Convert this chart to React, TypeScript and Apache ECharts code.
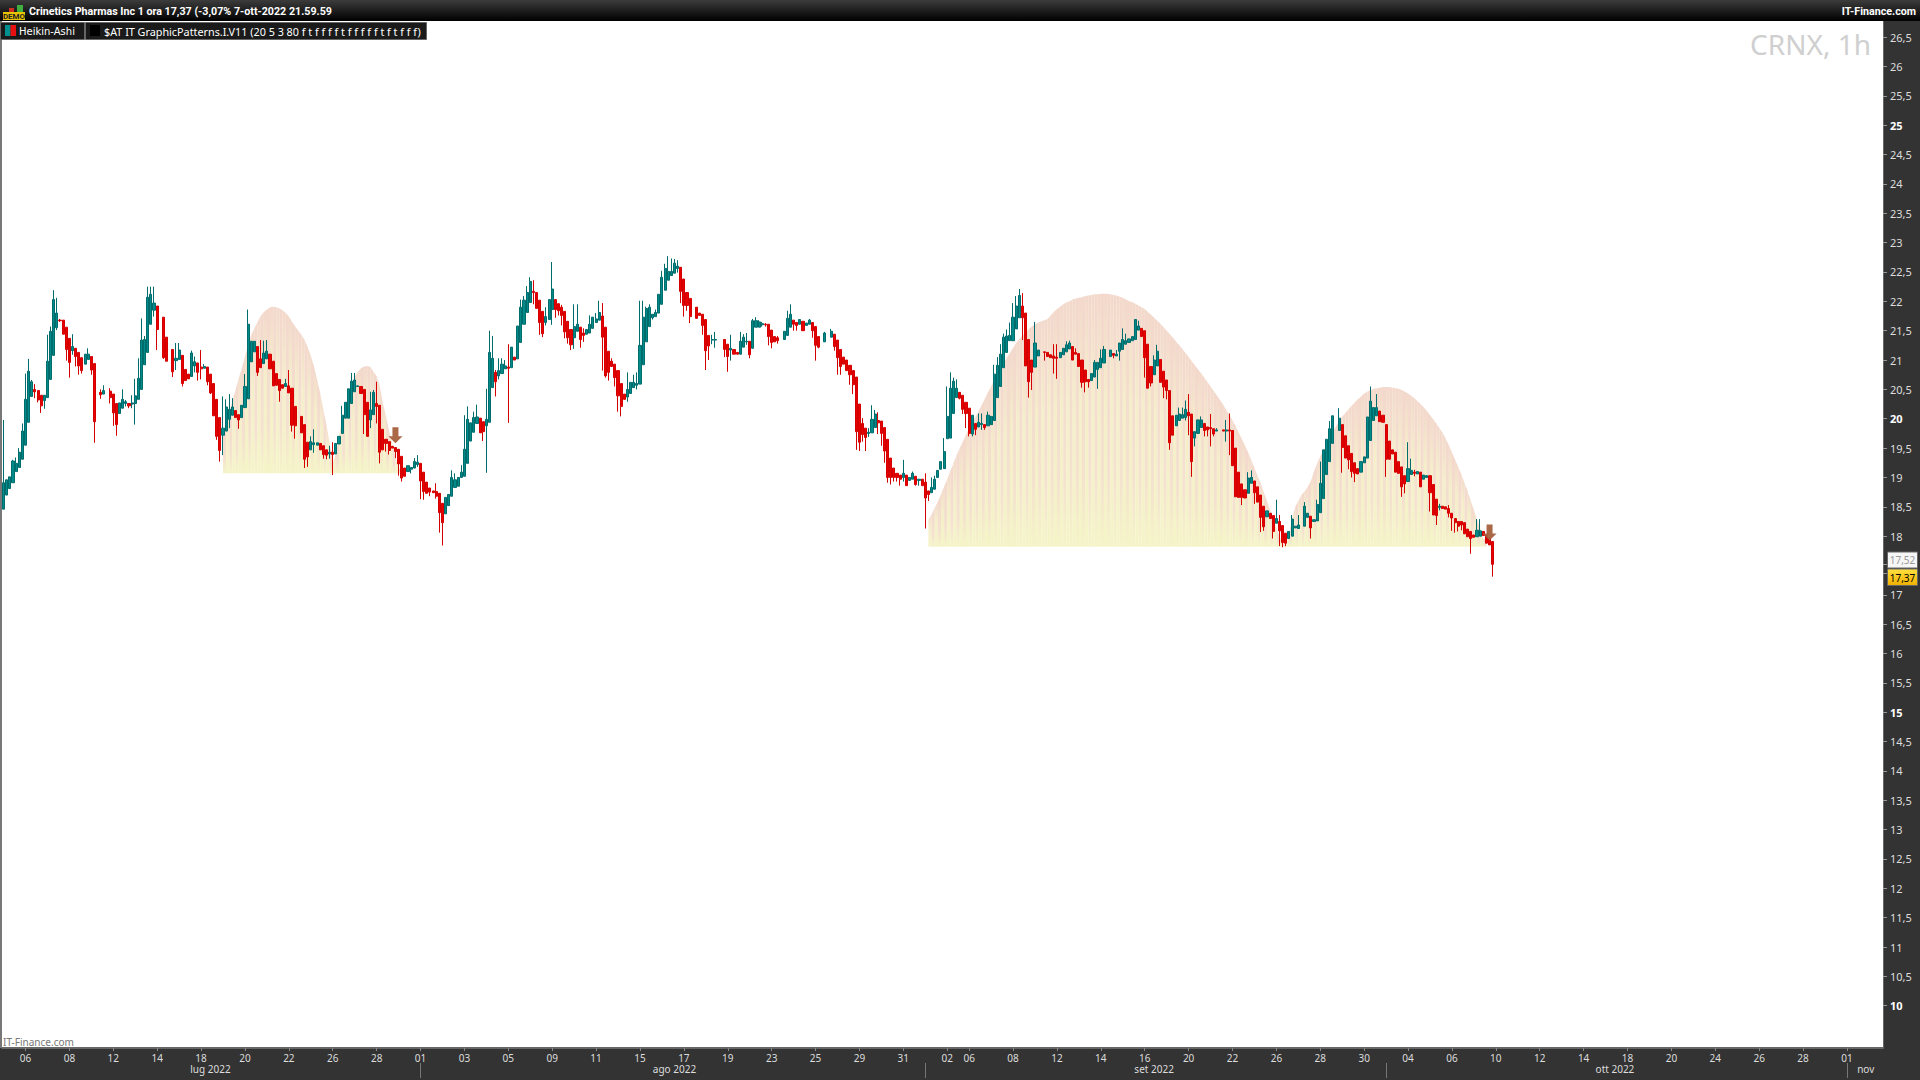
import React, { useEffect, useRef } from "react";
import * as echarts from "echarts";

type Bar = number[] | null;

const julyBars: Bar[] = [
[18.46,18.91,18.46,19.98],[18.70,18.96,18.70,18.96],[18.81,19.01,18.81,19.01],[18.91,19.28,18.91,19.30],[19.10,19.24,19.10,19.34],[19.17,19.43,19.17,19.50],[19.31,19.79,19.31,19.92],[19.55,20.33,19.55,20.77],[19.94,20.81,19.94,21.02],[20.38,20.63,20.38,20.66],
[20.50,20.46,20.35,20.59],[20.48,20.32,20.28,20.48],[20.40,20.22,20.10,20.40],[20.31,20.40,20.17,20.40],[20.36,20.98,20.36,21.43],[20.67,21.49,20.67,21.57],[21.08,22.03,21.08,22.19],[21.55,21.80,21.51,22.06],[21.68,21.67,21.65,21.70],[21.68,21.44,21.44,21.68],
[21.56,21.18,20.99,21.56],[21.37,20.96,20.70,21.37],[21.16,21.23,21.09,21.44],[21.20,21.06,20.89,21.20],[21.13,20.90,20.75,21.13],[21.04,20.82,20.77,21.04],[20.93,21.10,20.93,21.10],[21.01,21.10,21.01,21.20],[21.06,20.83,20.75,21.06],[20.94,19.95,19.59,20.94],
null,[20.45,20.41,20.34,20.50],[20.42,20.48,20.42,20.57],null,[20.47,20.36,20.26,20.52],[20.42,20.10,19.88,20.42],[20.26,19.90,19.71,20.26],[20.09,20.27,20.09,20.27],[20.18,20.33,20.18,20.50],[20.26,20.29,20.21,20.32],
[20.26,20.22,20.18,20.26],[20.25,20.27,20.18,20.40],[20.26,20.39,19.90,20.68],[20.33,20.69,20.33,21.03],[20.50,21.34,20.50,21.71],[20.92,21.35,20.92,21.41],[21.13,22.07,21.13,22.25],[21.61,22.12,21.61,22.25],[21.85,21.97,21.74,22.25],[21.92,21.52,21.17,21.92],
null,[21.73,21.04,21.02,21.73],[21.39,20.98,20.98,21.39],null,[21.18,20.80,20.71,21.18],[20.99,21.03,20.83,21.29],[21.01,21.17,21.01,21.29],[21.08,20.60,20.55,21.08],[20.84,20.65,20.65,20.84],[20.76,20.68,20.68,20.76],
[20.72,21.12,20.72,21.16],[20.90,20.97,20.79,21.06],[20.95,20.79,20.65,20.95],[20.88,20.85,20.67,21.17],[20.86,20.89,20.86,20.93],[20.88,20.63,20.57,20.88],[20.76,20.44,20.42,20.76],[20.60,20.05,20.05,20.60],[20.33,19.70,19.64,20.33],[20.02,19.46,19.27,20.02],
[19.72,19.84,19.38,20.38],[19.79,20.20,19.79,20.33],[19.99,20.16,19.84,20.42],[20.06,20.20,20.06,20.35],[20.14,20.02,20.02,20.14],[20.07,19.98,19.83,20.07],[20.02,20.23,20.02,20.23],[20.19,20.55,20.19,20.76],[20.34,21.61,20.34,21.86],[20.97,21.32,20.97,21.32],
[21.14,21.32,21.14,21.32],[21.23,20.79,20.73,21.23],[21.02,20.87,20.87,21.34],[20.94,21.12,20.94,21.33],[21.02,21.15,21.02,21.34],[21.10,20.85,20.85,21.10],[20.98,20.56,20.56,20.98],[20.77,20.57,20.57,20.77],[20.67,20.48,20.29,20.67],[20.58,20.52,20.52,20.58],
[20.55,20.60,20.55,20.68],[20.56,20.44,20.44,20.83],[20.52,19.89,19.78,20.52],[20.21,19.88,19.66,20.21],null,[20.04,19.76,19.76,20.04],[19.90,19.31,19.16,19.90],[19.60,19.35,19.18,19.60],[19.47,19.61,19.47,19.70],[19.56,19.59,19.42,19.82],
[19.55,19.59,19.55,19.59],[19.58,19.47,19.47,19.58],[19.54,19.39,19.32,19.54],[19.47,19.38,19.31,19.47],[19.40,19.43,19.32,19.54],[19.43,19.39,19.04,19.60],[19.40,19.58,19.40,19.58],[19.57,19.70,19.57,19.70],[19.75,20.06,19.75,20.22],[20.01,20.28,20.01,20.28],
[20.01,20.51,20.01,20.51],[20.26,20.64,20.26,20.78],[20.46,20.66,20.46,20.78],[20.55,20.56,20.55,20.56],[20.55,20.43,20.43,20.55],[20.50,20.07,19.74,20.50],[20.28,19.70,19.70,20.28],[19.98,20.15,19.84,20.46],[20.07,20.45,20.07,20.49],[20.26,20.21,19.92,20.63],
[20.23,19.43,19.24,20.23],[19.82,19.47,19.47,19.82],[19.65,19.58,19.44,19.65],[19.61,19.46,19.39,19.61],[19.53,19.50,19.50,19.53],[19.51,19.44,19.33,19.51],[19.48,19.23,19.03,19.48],[19.36,18.99,18.93,19.36],[19.16,19.02,19.02,19.16],[19.10,19.20,19.10,19.20],
[19.14,19.17,19.07,19.17],[19.16,19.27,19.16,19.33],[19.22,19.26,19.18,19.38],[19.24,18.94,18.63,19.24],[19.09,18.76,18.62,19.09],[18.92,18.73,18.73,18.92],[18.82,18.75,18.68,18.82],[18.77,18.74,18.74,18.77],[18.76,18.68,18.64,18.90],[18.73,18.40,18.06,18.73],
[18.56,18.23,17.84,18.56],[18.38,18.66,18.38,18.66],[18.52,18.71,18.52,18.71],[18.68,19.00,18.68,19.12],[18.83,18.96,18.83,19.07],[18.85,19.00,18.85,19.00],[19.00,19.09,19.00,19.21],[19.02,19.48,19.02,20.06],[19.24,19.99,19.24,20.21],[19.62,19.93,19.62,19.93],
[19.77,20.02,19.77,20.12],[19.92,20.03,19.92,20.24],[20.01,19.76,19.76,20.01],
];

const augustBars: Bar[] = [
[19.95,19.78,19.62,19.95],[19.88,19.99,19.08,20.51],[19.94,21.13,19.94,21.50],[20.53,21.03,20.53,21.41],[20.79,20.63,20.38,20.83],[20.73,20.82,20.67,21.03],[20.77,20.93,20.77,21.03],[20.85,20.90,20.85,21.00],[20.88,20.86,19.93,21.27],[20.87,21.22,20.87,21.22],
[21.05,21.00,21.00,21.05],[21.02,21.58,21.02,21.58],[21.30,21.90,21.30,22.03],[21.61,22.02,21.61,22.09],[21.81,22.15,21.81,22.26],[21.98,22.34,21.98,22.41],[22.17,22.15,21.95,22.36],[22.15,21.88,21.88,22.15],[22.02,21.64,21.43,22.02],[21.83,21.45,21.39,21.83],
[21.64,21.74,21.59,21.90],[21.69,22.03,21.69,22.03],[21.86,22.21,21.60,22.67],[22.03,21.86,21.72,22.03],[21.96,21.84,21.76,21.96],[21.90,21.76,21.59,21.94],[21.83,21.48,21.37,21.83],[21.66,21.38,21.28,21.66],[21.52,21.26,21.17,21.52],[21.38,21.57,21.19,21.95],
[21.49,21.61,21.49,21.95],[21.56,21.35,21.21,21.56],[21.46,21.42,21.31,21.54],[21.44,21.52,21.44,21.52],[21.46,21.61,21.46,21.76],[21.54,21.73,21.54,21.73],[21.64,21.70,21.64,21.80],[21.68,21.81,21.68,22.01],[21.75,21.39,20.82,21.97],[21.56,20.73,20.70,21.56],
[21.15,20.79,20.65,21.15],[20.98,20.89,20.89,21.03],[20.93,20.70,20.55,20.93],[20.82,20.39,20.12,20.82],[20.60,20.21,20.04,20.60],[20.42,20.33,20.33,20.42],[20.37,20.50,20.29,20.79],[20.43,20.62,20.43,20.62],[20.53,20.62,20.53,20.75],[20.57,20.60,20.50,20.79],
[20.59,21.25,20.59,22.01],[20.92,21.73,20.92,22.01],[21.31,21.88,21.31,21.91],[21.57,21.90,21.57,21.95],[21.72,21.78,21.69,21.78],[21.74,21.81,21.74,21.86],[21.80,22.12,21.80,22.12],[21.95,22.41,21.95,22.52],[22.19,22.56,22.19,22.64],[22.36,22.51,22.36,22.77],
[22.44,22.51,22.44,22.73],[22.48,22.65,22.48,22.72],[22.56,22.60,22.49,22.70],[22.58,22.17,21.97,22.58],[22.38,21.93,21.74,22.38],[22.15,21.93,21.84,22.15],[22.05,21.74,21.63,22.05],null,[21.90,21.71,21.71,21.90],[21.80,21.76,21.76,21.80],
[21.78,21.59,21.43,21.78],[21.69,21.16,20.83,21.69],[21.42,21.24,21.00,21.42],[21.34,21.35,21.27,21.43],[21.34,21.35,21.21,21.48],null,null,[21.35,21.18,21.05,21.35],[21.27,21.06,20.80,21.27],[21.17,21.20,20.99,21.43],
[21.18,21.10,21.10,21.18],[21.13,21.10,21.10,21.13],[21.10,21.32,21.10,21.48],[21.22,21.39,21.22,21.44],[21.31,21.32,21.26,21.46],[21.32,21.09,21.03,21.32],[21.20,21.67,21.20,21.70],[21.56,21.67,21.56,21.73],[21.56,21.65,21.56,21.68],[21.60,21.62,21.57,21.65],
[21.61,21.60,21.57,21.63],[21.61,21.40,21.25,21.61],[21.51,21.30,21.20,21.51],[21.40,21.31,21.31,21.40],[21.38,21.33,21.28,21.41],null,[21.35,21.49,21.35,21.49],[21.42,21.71,21.42,21.84],[21.56,21.78,21.56,21.95],[21.68,21.61,21.50,21.68],
[21.64,21.59,21.50,21.64],[21.61,21.69,21.61,21.69],[21.66,21.50,21.50,21.66],[21.59,21.63,21.59,21.63],[21.61,21.68,21.61,21.70],[21.64,21.50,21.38,21.64],[21.57,21.25,20.99,21.57],[21.40,21.22,21.20,21.40],null,[21.31,21.46,21.31,21.48],
null,[21.39,21.49,21.39,21.53],[21.44,21.23,21.16,21.44],[21.34,21.04,20.75,21.34],[21.18,20.89,20.75,21.18],[21.05,20.93,20.93,21.05],[21.00,20.82,20.82,21.00],[20.91,20.75,20.58,20.91],[20.82,20.58,20.42,20.82],[20.71,19.78,19.47,20.71],
[20.25,19.60,19.45,20.25],[19.92,19.73,19.61,20.01],[19.84,19.68,19.45,19.84],[19.75,19.77,19.69,19.84],[19.76,19.99,19.76,20.23],[19.85,20.08,19.85,20.15],[19.97,19.93,19.74,20.11],[19.96,19.75,19.54,19.96],[19.85,19.45,19.25,19.85],[19.65,19.00,18.91,19.65],
[19.33,19.00,18.88,19.33],[19.16,19.00,18.93,19.16],[19.07,19.00,18.93,19.07],[19.04,18.97,18.86,19.04],[19.00,19.07,18.93,19.30],[19.04,18.86,18.86,19.04],[18.95,19.00,18.95,19.00],[18.97,19.07,18.97,19.10],[19.02,18.88,18.86,19.02],[18.95,18.97,18.86,18.97],
[18.97,18.86,18.86,18.97],[18.92,18.65,18.13,19.07],[18.77,18.71,18.60,18.77],[18.74,18.83,18.74,19.00],[18.80,18.97,18.80,19.03],[19.00,19.12,19.00,19.12],[19.14,19.27,19.14,19.27],[19.15,19.44,19.15,19.67],[19.66,20.04,19.66,20.55],[19.67,20.52,19.67,20.79],
[20.09,20.64,20.09,20.70],[20.36,20.52,20.36,20.67],[20.45,20.35,20.33,20.45],
];

const septemberBars: Bar[] = [
[20.40,20.16,20.08,20.40],[20.28,20.09,19.84,20.28],[20.18,19.75,19.70,20.18],[19.74,20.06,19.70,20.06],[19.92,19.82,19.72,19.92],[19.86,19.94,19.86,20.09],[19.90,19.92,19.81,20.09],[19.90,19.85,19.81,19.90],[19.88,20.06,19.88,20.12],[19.90,20.04,19.90,20.04],
[19.97,20.76,19.97,20.92],[20.36,20.91,20.36,21.05],[20.55,21.10,20.55,21.27],[20.87,21.39,20.87,21.45],[21.13,21.41,21.13,21.52],[21.33,21.42,21.33,21.64],[21.33,21.73,21.33,21.97],[21.53,21.92,21.53,22.09],[21.72,22.10,21.72,22.21],[21.92,21.72,21.34,22.14],
[21.80,20.90,20.90,21.80],[21.35,20.63,20.36,21.35],[21.00,20.79,20.49,21.00],[20.88,21.29,20.88,21.65],[21.07,21.17,21.07,21.17],null,[21.14,21.13,20.99,21.14],[21.13,21.06,21.06,21.13],[21.09,21.04,21.04,21.09],[21.07,21.03,20.77,21.27],
[21.05,21.03,20.68,21.27],[21.04,21.13,21.04,21.13],[21.09,21.20,21.09,21.20],[21.14,21.26,21.14,21.32],[21.19,21.29,21.19,21.33],[21.23,21.00,21.00,21.23],[21.13,21.10,21.10,21.20],[21.11,20.89,20.89,21.11],[21.00,20.62,20.53,21.00],[20.83,20.63,20.45,20.83],
[20.67,20.63,20.53,20.67],[20.65,20.77,20.65,20.77],[20.71,20.96,20.71,21.00],[20.84,20.96,20.51,20.96],[20.87,21.03,20.87,21.18],[20.95,21.18,20.95,21.24],null,[21.06,21.17,21.06,21.17],[21.11,21.08,21.03,21.11],[21.07,21.10,21.07,21.17],
[21.15,21.29,20.99,21.29],[21.18,21.35,21.18,21.54],[21.27,21.33,21.27,21.45],[21.30,21.36,21.30,21.36],[21.33,21.40,21.33,21.40],[21.35,21.69,21.35,21.69],[21.51,21.58,21.51,21.67],[21.54,21.40,21.40,21.54],[21.50,21.04,20.70,21.50],[21.27,20.52,20.52,21.27],
[20.89,20.61,20.55,20.89],[20.75,21.00,20.75,21.08],[20.90,21.15,20.90,21.26],[21.01,20.62,20.62,21.01],[20.81,20.54,20.35,20.81],[20.66,20.48,20.33,20.66],[20.48,19.59,19.47,20.48],[20.05,19.72,19.72,20.05],[19.88,20.06,19.88,20.06],[19.97,20.08,19.97,20.19],
[20.01,20.07,20.01,20.19],[20.02,20.16,19.97,20.31],[20.11,20.05,19.72,20.42],[20.08,19.27,19.01,20.08],[19.67,19.78,19.53,19.78],[19.75,19.98,19.75,19.98],[19.85,19.98,19.85,20.04],[19.92,19.80,19.70,19.92],[19.86,19.81,19.70,19.86],[19.85,19.83,19.53,20.08],
[19.83,19.74,19.70,19.83],[19.79,19.81,19.79,19.84],null,[19.81,19.79,19.79,19.81],[19.79,19.81,19.61,19.98],[19.81,19.79,19.38,20.09],[19.80,19.20,19.20,19.80],[19.50,18.67,18.67,19.50],[19.09,18.66,18.66,19.09],[18.89,18.66,18.53,18.89],
[18.79,18.65,18.65,18.79],[18.73,18.99,18.73,19.09],[18.90,19.00,18.90,19.12],[18.94,18.74,18.55,18.94],[18.84,18.58,18.58,18.84],[18.70,18.32,18.07,18.70],[18.51,18.16,18.09,18.51],[18.33,18.43,18.33,18.43],[18.39,18.30,18.30,18.39],[18.35,18.08,17.96,18.35],
[18.22,18.30,18.22,18.62],[18.25,18.09,17.83,18.36],[18.18,17.89,17.81,18.18],[18.05,17.88,17.83,18.05],[17.96,18.08,17.96,18.08],[18.00,18.29,18.00,18.36],[18.14,18.17,18.14,18.17],[18.13,18.19,18.13,18.36],null,[18.17,18.51,18.17,18.58],
[18.32,18.39,18.32,18.39],[18.34,18.14,17.96,18.34],[18.25,18.28,18.25,18.28],[18.26,18.54,18.26,18.62],[18.40,18.90,18.40,19.27],[18.64,19.47,18.64,19.47],[19.05,19.65,19.05,19.65],[19.27,19.83,19.27,19.96],[19.58,20.05,19.58,20.05],null,
[19.80,20.01,19.80,20.18],[19.90,19.51,19.08,19.90],[19.71,19.33,19.33,19.71],[19.54,19.30,19.14,19.54],[19.41,19.10,19.00,19.41],[19.25,19.07,18.92,19.25],[19.15,19.06,19.06,19.15],[19.09,19.27,19.09,19.27],[19.25,19.35,19.25,19.35],[19.33,20.03,19.33,20.03],
[19.63,20.30,19.63,20.55],[19.97,20.19,19.97,20.19],[20.05,20.19,20.05,20.42],[20.13,19.95,19.95,20.13],[20.06,19.94,19.94,20.06],[19.90,19.31,19.01,19.90],[19.62,19.31,19.31,19.62],[19.47,19.40,19.40,19.47],[19.43,19.09,19.09,19.43],[19.27,19.07,19.07,19.27],
[19.18,18.84,18.67,19.18],[19.03,18.89,18.73,19.03],[18.93,19.15,18.93,19.60],[19.05,19.12,19.05,19.32],[19.09,19.07,19.02,19.13],[19.06,19.10,19.06,19.10],[19.09,18.84,18.84,19.09],[18.97,19.04,18.97,19.04],[19.00,19.03,19.00,19.03],[19.03,18.74,18.42,19.03],
[18.88,18.36,18.36,18.88],[18.63,18.35,18.19,18.63],[18.49,18.51,18.44,18.55],[18.51,18.47,18.47,18.51],[18.50,18.46,18.46,18.50],[18.47,18.39,18.32,18.53],[18.39,18.31,18.09,18.39],[18.30,18.23,18.06,18.30],[18.25,18.17,18.08,18.25],[18.25,18.19,18.10,18.25],
[18.23,18.04,18.04,18.23],[18.12,17.99,17.99,18.12],[18.08,17.96,17.70,18.08],[18.02,17.98,17.98,18.02],[17.99,18.10,17.99,18.29],[18.00,18.09,18.00,18.29],[18.08,18.01,18.01,18.08],[18.02,17.88,17.88,18.02],[17.96,17.85,17.85,17.96],[17.91,17.52,17.31,17.91],
];

const smallHumpTops = [19.70,19.92,20.12,20.32,20.49,20.69,20.86,21.06,21.26,21.43,21.54,21.65,21.75,21.82,21.86,21.90,21.91,21.90,21.88,21.85,21.80,21.74,21.65,21.57,21.50,21.43,21.34,21.22,21.07,20.89,20.66,20.43,20.15,19.89,19.58,19.24,19.41,19.70,19.98,20.21,20.40,20.58,20.72,20.80,20.86,20.89,20.90,20.88,20.80,20.72,20.55,20.26,20.04,19.78,19.58,19.35,19.15];
const bigHumpTops = [18.28,18.37,18.48,18.59,18.71,18.84,18.97,19.11,19.24,19.38,19.50,19.61,19.73,19.85,19.95,20.03,20.13,20.23,20.34,20.45,20.55,20.66,20.75,20.85,20.94,21.04,21.12,21.21,21.29,21.36,21.42,21.47,21.53,21.57,21.61,21.64,21.66,21.68,21.70,21.76,21.82,21.87,21.91,21.95,21.98,22.00,22.03,22.05,22.06,22.07,22.09,22.10,22.11,22.12,22.12,22.13,22.13,22.13,22.12,22.11,22.10,22.08,22.06,22.03,22.00,21.99,21.96,21.93,21.90,21.87,21.82,21.77,21.72,21.67,21.62,21.56,21.50,21.44,21.38,21.31,21.25,21.19,21.12,21.05,20.98,20.91,20.84,20.77,20.70,20.62,20.55,20.47,20.40,20.32,20.24,20.15,20.07,19.97,19.87,19.76,19.65,19.54,19.42,19.29,19.16,19.02,18.90,18.74,18.60,18.44,18.30,18.14,17.98,17.88,17.84,18.02,18.30,18.50,18.60,18.70,18.76,18.84,18.94,19.10,19.24,19.36,19.46,19.58,19.68,19.78,19.87,19.95,20.04,20.10,20.16,20.22,20.28,20.33,20.38,20.43,20.46,20.49,20.51,20.52,20.53,20.54,20.54,20.54,20.53,20.52,20.51,20.49,20.46,20.43,20.39,20.35,20.30,20.25,20.19,20.13,20.06,19.99,19.92,19.84,19.76,19.66,19.55,19.42,19.30,19.18,19.05,18.90,18.76,18.60,18.44,18.28,18.12,17.95];
const smallHumpBase = 19.07;
const bigHumpBase = 17.82;
const smallHumpStart = 70;
const bigHumpStart = 295;

const arrowPoints = [[125, 19.72], [474, 18.06]];

const dateLabels = ["06","08","12","14","18","20","22","26","28","01","03","05","09","11","15","17","19","23","25","29","31","02","06","08","12","14","16","20","22","26","28","30","04","06","10","12","14","18","20","24","26","28","01"];
const monthLabels: [number, string][] = [[66,"lug 2022"],[214,"ago 2022"],[367,"set 2022"],[514,"ott 2022"],[594,"nov"]];
const monthStarts = [133, 294, 441, 588];
const priceTicks = [10,10.5,11,11.5,12,12.5,13,13.5,14,14.5,15,15.5,16,16.5,17,18,18.5,19,19.5,20,20.5,21,21.5,22,22.5,23,23.5,24,24.5,25,25.5,26,26.5];
const lastPrices = [17.52, 17.37];

const SLOTS = 600;
const ui = '"Noto Sans", sans-serif';
const titleFont = 'Roboto, sans-serif';

const bars = [...julyBars, ...augustBars, ...septemberBars];

const labelAt: Record<number, string> = {};
{
  let at = 7;
  dateLabels.forEach((l) => {
    labelAt[at] = l;
    at += l === "02" ? 7 : 14;
  });
}
const monthLabelAt: Record<number, string> = {};
monthLabels.forEach(([i, l]) => (monthLabelAt[i] = l));

const stripeA = new echarts.graphic.LinearGradient(0, 0, 0, 1, [
  { offset: 0, color: "#f3d8cc" },
  { offset: 0.42, color: "#f5eecb" },
  { offset: 1, color: "#f5f4c8" },
]);
const stripeB = new echarts.graphic.LinearGradient(0, 0, 0, 1, [
  { offset: 0, color: "#f3d8cc" },
  { offset: 0.72, color: "#f4e2ce" },
  { offset: 1, color: "#f5f4c8" },
]);

function humpRows(tops: number[], start: number, base: number) {
  return tops.map((t, k) => [start + k, base, t, tops[k + 1] ?? t]);
}

function option(): any {
  const cats = Array.from({ length: SLOTS }, (_, i) => String(i));
  const text = (x: number, y: number, t: string, o: any = {}) => ({
    type: "text", x, y, z: 20,
    style: { text: t, fill: "#fff", font: `11px ${ui}`, textVerticalAlign: "middle", ...o },
  });
  const rect = (x: number, y: number, w: number, h: number, fill: any, stroke?: string) => ({
    type: "rect", z: 19, shape: { x, y, width: w, height: h }, style: { fill, stroke },
  });
  return {
    animation: false,
    backgroundColor: "#333333",
    grid: { left: 2, top: 21, width: 1881, height: 1027, show: true, backgroundColor: "#ffffff", borderWidth: 0 },
    xAxis: [
      {
        type: "category", data: cats, boundaryGap: true, position: "bottom",
        axisLine: { show: true, lineStyle: { color: "#666", width: 2 } },
        axisTick: { show: true, alignWithLabel: true, length: 3, lineStyle: { color: "#888" }, interval: (i: number) => labelAt[i] !== undefined },
        axisLabel: {
          color: "#ddd", fontFamily: ui, fontSize: 10, margin: 5, hideOverlap: false,
          interval: (i: number) => labelAt[i] !== undefined,
          formatter: (_: string, i: number) => labelAt[i] ?? "",
        },
        splitLine: { show: false },
      },
      {
        type: "category", data: cats, boundaryGap: true, position: "bottom", offset: 15,
        axisLine: { show: false },
        axisTick: { show: true, alignWithLabel: true, length: 15, lineStyle: { color: "#777" }, interval: (i: number) => monthStarts.includes(i) },
        axisLabel: {
          color: "#ddd", fontFamily: ui, fontSize: 10, margin: 1, hideOverlap: false,
          interval: (i: number) => monthLabelAt[i] !== undefined,
          formatter: (_: string, i: number) => monthLabelAt[i] ?? "",
        },
        splitLine: { show: false },
      },
    ],
    yAxis: {
      type: "value", position: "right", scale: true, min: 9.28, max: 26.776,
      axisLine: { show: true, lineStyle: { color: "#666" } },
      axisTick: { show: true, length: 4, lineStyle: { color: "#999" }, customValues: [...priceTicks, ...lastPrices] },
      axisLabel: {
        color: "#ddd", fontFamily: ui, fontSize: 11, margin: 7, customValues: priceTicks,
        formatter: (v: number) => {
          const s = String(v).replace(".", ",");
          return v % 5 === 0 ? `{b|${s}}` : s;
        },
        rich: { b: { color: "#fff", fontWeight: "bold", fontFamily: ui, fontSize: 11 } },
      },
      splitLine: { show: false },
    },
    series: [
      {
        type: "custom", name: "pattern", z: 1, silent: true, clip: true,
        data: [...humpRows(smallHumpTops, smallHumpStart, smallHumpBase), ...humpRows(bigHumpTops, bigHumpStart, bigHumpBase)],
        encode: { x: 0, y: [1, 2, 3] },
        renderItem: (_: any, api: any) => {
          const i = api.value(0);
          const top = api.coord([i, api.value(2)]);
          const next = api.coord([i + 1, api.value(3)]);
          const base = api.coord([i, api.value(1)]);
          return {
            type: "polygon",
            shape: { points: [[top[0], top[1]], [next[0] + 0.1, next[1]], [next[0] + 0.1, base[1]], [top[0], base[1]]] },
            style: { fill: i % 2 ? stripeA : stripeB },
          };
        },
      },
      {
        type: "candlestick", z: 2, barWidth: 2.6, silent: true,
        data: bars.map((b) => b ?? ["-", "-", "-", "-"]),
        itemStyle: { color: "#008a8a", color0: "#e80000", borderColor: "#006c6c", borderColor0: "#d40000", borderWidth: 1 },
      },
      {
        type: "scatter", z: 3, silent: true, data: arrowPoints,
        symbol: "path://M4,0 H10 V9 H14 L7,16 L0,9 H4 Z", symbolSize: [14, 16],
        itemStyle: { color: "#a5603c", opacity: 0.95 },
      },
    ],
    graphic: [
      {
        type: "rect", z: 18, shape: { x: 0, y: 0, width: 1920, height: 21 },
        style: { fill: new echarts.graphic.LinearGradient(0, 0, 0, 1, [{ offset: 0, color: "#3c3c3c" }, { offset: 1, color: "#000" }]) },
      },
      rect(0, 21, 2, 1027, "#777"),
      text(29, 11, "Crinetics Pharmas Inc 1 ora 17,37 (-3,07% 7-ott-2022 21.59.59", { font: `bold 10.7px ${titleFont}` }),
      text(1916, 11, "IT-Finance.com", { font: `bold 10.7px ${titleFont}`, textAlign: "right" }),
      rect(17, 5, 6, 7, "#40b040"),
      rect(9, 8, 5, 4, "#d03020"),
      rect(3, 12, 22, 8, "#e8c400"),
      text(14, 16.5, "DEMO", { font: `bold 8px ${titleFont}`, fill: "#222", textAlign: "center" }),
      rect(0.5, 22.5, 84, 17, "#1a1a1a", "#666"),
      rect(5, 25, 5.5, 11, "#009090"),
      rect(10.5, 25, 5.5, 11, "#e81010"),
      text(19, 31, "Heikin-Ashi", { font: `10px "DejaVu Sans", sans-serif` }),
      rect(85.5, 22.5, 341, 17, "#1a1a1a", "#666"),
      rect(90, 25, 10, 11, "#000"),
      text(104, 31, "$AT IT GraphicPatterns.I.V11 (20 5 3 80 f t f f f f t f f f f f t f t f f f)", { font: `10.8px ${ui}` }),
      text(1871, 44, "CRNX, 1h", { font: `28px ${ui}`, fill: "#cfcfcf", textAlign: "right" }),
      text(3, 1042, "IT-Finance.com", { font: `10px ${ui}`, fill: "#777" }),
      rect(1887.5, 552, 30, 16, "#f6f6f6", "#666"),
      text(1902.5, 560, "17,52", { fill: "#999", textAlign: "center", font: `10px ${ui}` }),
      rect(1887.5, 569, 30, 16.5, new echarts.graphic.LinearGradient(0, 0, 0, 1, [{ offset: 0, color: "#ffe040" }, { offset: 1, color: "#f0b000" }]), "#666"),
      text(1902.5, 578, "17,37", { fill: "#000", textAlign: "center", font: `10px ${ui}` }),
    ],
  };
}

export default function App() {
  const ref = useRef<HTMLDivElement>(null);
  useEffect(() => {
    document.body.style.margin = "0";
    const chart = echarts.init(ref.current!, undefined, { renderer: "svg" });
    chart.setOption(option());
    return () => chart.dispose();
  }, []);
  return <div ref={ref} style={{ width: 1920, height: 1080, position: "absolute", left: 0, top: 0 }} />;
}
